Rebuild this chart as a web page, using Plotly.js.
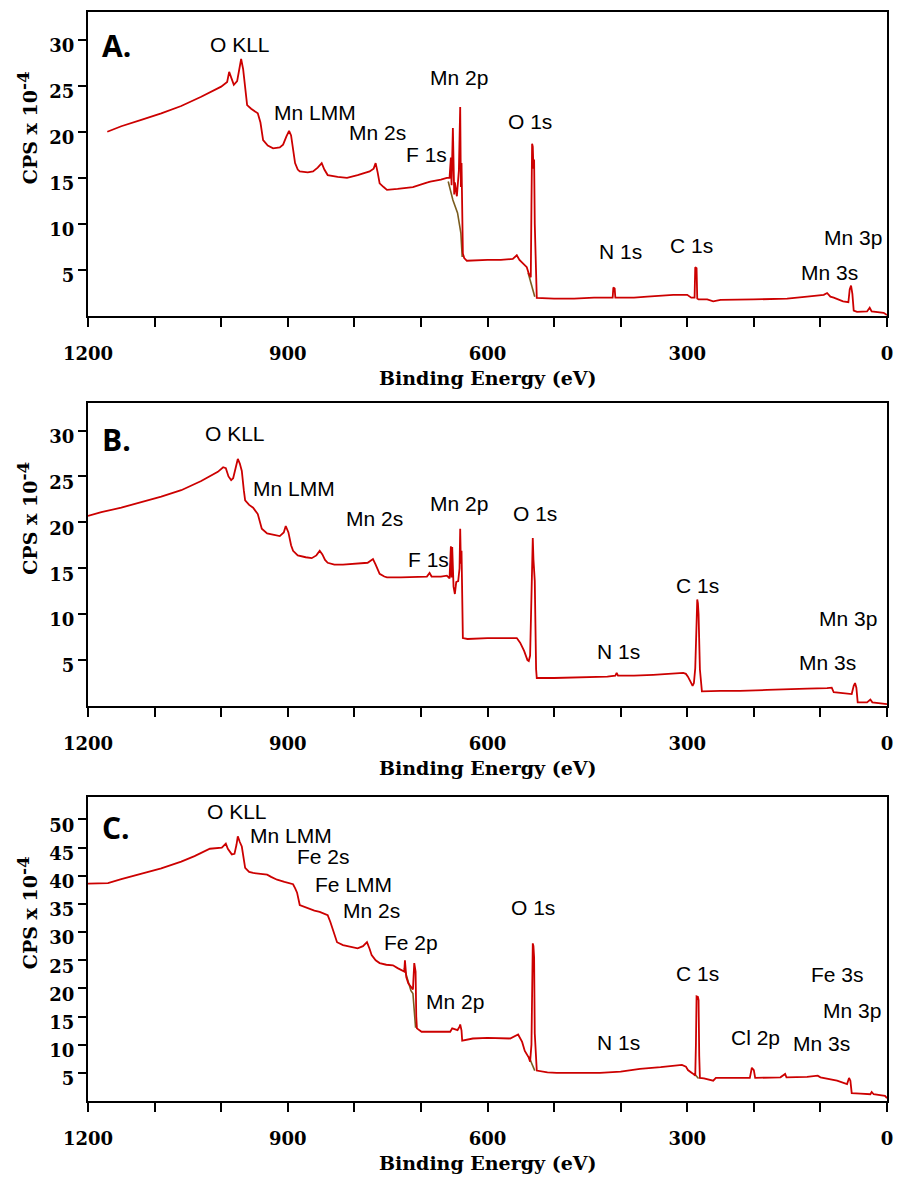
<!DOCTYPE html>
<html><head><meta charset="utf-8">
<script src="https://cdn.plot.ly/plotly-3.0.1.min.js"></script>
<style>html,body{margin:0;padding:0;background:#fff}#chart{width:897px;height:1178px}</style>
</head><body><div id="chart"></div>
<script>
// ---------- DATA ----------
const energyA = [1171,1150,1120,1090,1060,1030,1000,991,988,984,981,976,972,970,967,964,961,955,945,941,937,930,922,912,907,902,898,895,892,889,885,882,870,862,855,849,845,840,825,811,795,777,771,768,765,762,756,751,735,712,690,686,670,661,657,655,654,652,650,649,646,643,641,640,639,637,635,631,600,580,562,556,552,545,541,538,535,534,533,532,531,530,529,527,526,500,470,440,412,411,409,408,380,360,321,300,294,289,288,286,285,283,270,261,250,200,150,120,95,90,85,80,66,58,56,54,52,50,45,30,26,23,12,5,0];
const cpsA    = [20.0,20.6,21.3,22.0,22.8,23.8,24.9,25.4,26.5,25.6,25.1,25.5,27.2,27.9,26.8,24.5,22.9,22.5,22.0,21.0,19.1,18.5,18.2,18.3,18.6,19.5,20.1,19.6,18.0,16.6,15.9,15.7,15.6,15.7,16.1,16.6,15.9,15.3,15.1,15.0,15.3,15.7,16.0,16.6,15.6,14.4,14.0,13.7,13.8,14.0,14.5,14.6,14.8,15.0,15.0,17.2,14.2,20.4,13.2,14.5,13.0,15.8,22.7,14.0,16.6,6.8,6.3,6.0,6.1,6.1,6.2,6.6,6.1,5.6,5.3,4.6,4.2,12.0,18.7,18.4,16.0,17.0,10.0,2.5,1.96,1.9,1.9,2.0,2.0,3.1,3.0,2.0,2.0,2.1,2.3,2.3,2.0,2.0,5.3,5.2,1.9,1.8,1.8,1.6,1.75,1.8,1.9,2.1,2.3,2.5,2.1,2.0,1.6,1.5,2.9,3.3,2.4,0.6,0.45,0.5,0.9,0.5,0.45,0.35,0.1];
const bgEnergyA = [659,652,645,640,638,null,539,535,531,529];
const bgCpsA    = [14.6,12.6,11.2,9.0,6.4,null,4.7,3.6,2.6,2.1];

const energyB = [1200,1180,1150,1120,1090,1060,1030,1005,997,993,989,985,982,978,975,972,969,966,964,958,952,945,942,939,931,920,912,906,903,899,895,892,885,873,864,857,852,848,844,840,830,817,800,780,774,772,768,764,762,755,751,730,700,691,687,684,670,661,657,655,654,653,651,649,647,644,642,641,640,639,637,630,600,570,556,551,545,540,538,536,534,532,531,530,529,527,526,500,470,446,420,408,406,404,380,351,330,306,302,299,294,292,290,288,286,285,284,283,281,279,278,250,221,180,150,120,90,83,80,70,53,50,48,46,44,30,25,22,10,0];
const cpsB    = [20.7,21.1,21.6,22.2,22.8,23.5,24.5,25.5,26.0,25.9,25.0,24.6,24.8,26.0,26.9,26.4,25.6,23.5,22.4,21.9,21.6,20.9,20.0,19.3,18.8,18.6,18.5,18.9,19.6,18.9,17.5,16.9,16.4,16.2,16.1,16.4,16.9,16.5,15.9,15.6,15.4,15.4,15.5,15.6,15.9,16.0,15.4,14.6,14.4,14.1,14.0,14.0,14.1,14.1,14.5,14.1,14.1,14.2,13.9,17.4,14.0,17.3,13.0,12.2,13.5,13.6,15.0,19.3,15.5,16.9,7.4,7.3,7.4,7.4,7.4,6.9,6.0,5.0,4.9,5.5,12.0,18.3,16.0,14.5,13.6,4.0,3.05,3.05,3.1,3.1,3.2,3.3,3.6,3.3,3.3,3.4,3.5,3.6,3.5,3.2,2.5,2.2,2.5,4.1,9.0,11.6,11.2,10.0,4.0,1.7,1.6,1.65,1.64,1.75,1.85,1.9,1.95,2.0,1.5,1.45,1.3,2.2,2.5,2.0,0.4,0.4,0.7,0.4,0.3,0.2];

const energyC = [1200,1180,1170,1150,1120,1090,1060,1040,1017,1005,999,993,990,984,980,977,975,972,969,964,958,952,940,931,925,916,905,901,892,889,886,882,876,871,860,852,845,840,836,832,826,817,805,795,787,781,777,774,768,762,752,742,735,727,725,724,722,719,714,712,710,708,707,706,699,680,656,653,645,642,641,639,638,622,600,566,558,554,548,544,538,536,534,533,532,531,530,529,527,526,510,496,460,431,400,371,340,308,302,299,292,288,287,286,284,283,282,281,275,270,265,261,257,230,206,203,200,198,160,153,151,120,104,100,90,75,60,58,57,55,53,40,25,23,20,8,3,0];
const cpsC    = [38.6,38.6,38.7,39.4,40.4,41.3,42.5,43.5,44.8,44.9,45.0,45.7,44.8,43.8,43.9,45.5,47.0,46.0,45.2,41.4,40.7,40.5,40.3,40.2,39.8,39.3,38.9,38.8,38.5,37.8,37.0,34.8,34.5,34.3,33.8,33.6,33.3,33.0,31.8,30.4,28.2,27.7,27.4,27.1,27.5,28.2,27.0,25.9,25.0,24.5,24.2,24.1,23.6,23.2,23.0,25.0,22.0,20.9,20.0,19.8,24.5,23.0,15.0,12.9,12.3,12.3,12.3,12.9,12.6,13.2,13.6,12.5,10.7,11.1,11.2,11.1,11.5,11.8,10.5,8.9,7.7,7.0,10.0,25.0,28.0,27.5,25.5,12.0,6.0,5.4,5.1,5.0,5.0,5.0,5.2,5.7,6.0,6.4,6.1,5.5,4.9,4.5,10.0,18.6,18.5,17.9,8.0,4.1,4.0,3.9,3.7,3.6,4.1,4.1,4.1,5.9,5.5,4.1,4.2,4.8,4.2,4.3,4.5,4.2,4.0,3.6,3.0,3.8,4.1,3.6,1.4,1.3,1.2,1.6,1.2,1.0,0.9,0.5];
const bgEnergyC = [725,720,715,712,708,null,538,534,531,529,null,290,286,283];
const bgCpsC    = [23.6,21.5,19.6,19.1,13.0,null,7.9,6.8,6.0,5.4,null,4.9,4.4,4.0];

const xTickVals = [0,300,600,900,1200];
const xTickText = ['0','300','600','900','1200'];
const yTickValsAB = [5,10,15,20,25,30];
const yTickValsC  = [5,10,15,20,25,30,35,40,45,50];

const panelLetters = ['A.','B.','C.'];
const peakLabelsA = ['O KLL','Mn LMM','Mn 2s','F 1s','Mn 2p','O 1s','N 1s','C 1s','Mn 3p','Mn 3s'];
const peakLabelsB = ['O KLL','Mn LMM','Mn 2s','F 1s','Mn 2p','O 1s','N 1s','C 1s','Mn 3p','Mn 3s'];
const peakLabelsC = ['O KLL','Mn LMM','Fe 2s','Fe LMM','Mn 2s','Fe 2p','Mn 2p','O 1s','N 1s','C 1s','Cl 2p','Fe 3s','Mn 3p','Mn 3s'];

// ---------- LAYOUT (label placements in data units) ----------
const placeA = [[972,29.5],[859,22.1],[765,19.9],[692,17.5],[643,25.9],[536,21.1],[401,7.0],[293,7.7],[51,8.5],[86,4.7]];
const placeB = [[979,29.7],[891,23.7],[769,20.4],[689,16.0],[643,22.1],[529,21.0],[404,5.9],[285,13.1],[59,9.5],[90,4.7]];
const placeC = [[976,51.4],[895,47.1],[846,43.4],[801,38.4],[774,33.9],[715,28.2],[649,17.7],[532,34.3],[404,10.4],[285,22.7],[198,11.25],[75,22.5],[53,16.1],[99,10.2]];

const RED = '#cc0000', BROWN = '#7a5c1e';
const axisFont = {family:'DejaVu Serif, Liberation Serif, serif', size:18, color:'#000', weight:'bold'};

function xAxis(anchor){
  return {domain:[0,1], range:[1200,0], autorange:false, anchor:anchor,
    tickmode:'array', tickvals:xTickVals, ticktext:xTickText,
    ticks:'outside', ticklen:9, tickwidth:2, tickcolor:'#000',
    minor:{tickmode:'linear', tick0:0, dtick:100, ticks:'outside', ticklen:9, tickwidth:2, tickcolor:'#000', showgrid:false},
    showline:true, linewidth:2, linecolor:'#000', mirror:true,
    showgrid:false, zeroline:false, tickfont:axisFont, ticklabelstandoff:11};
}
function yAxis(anchor, domain, range, vals){
  return {domain:domain, range:range, autorange:false, anchor:anchor,
    tickmode:'array', tickvals:vals, ticktext:vals.map(String),
    ticks:'outside', ticklen:8, tickwidth:2, tickcolor:'#000',
    showline:true, linewidth:2, linecolor:'#000', mirror:true,
    showgrid:false, zeroline:false, tickfont:axisFont, ticklabelshift:6};
}

const traces = [
  {x:bgEnergyA, y:bgCpsA, xaxis:'x', yaxis:'y', mode:'lines', line:{color:BROWN, width:1.6}, connectgaps:false, hoverinfo:'skip'},
  {x:energyA, y:cpsA, xaxis:'x', yaxis:'y', mode:'lines', line:{color:RED, width:1.8}},
  {x:energyB, y:cpsB, xaxis:'x2', yaxis:'y2', mode:'lines', line:{color:RED, width:1.8}},
  {x:bgEnergyC, y:bgCpsC, xaxis:'x3', yaxis:'y3', mode:'lines', line:{color:BROWN, width:1.6}, connectgaps:false, hoverinfo:'skip'},
  {x:energyC, y:cpsC, xaxis:'x3', yaxis:'y3', mode:'lines', line:{color:RED, width:1.8}}
];

const annotations = [];
const peakFont = {family:'Liberation Sans, Arial, sans-serif', size:21, color:'#000'};
function addPeaks(labels, places, xr, yr){
  labels.forEach((t,i)=>annotations.push({text:t, x:places[i][0], y:places[i][1], xref:xr, yref:yr,
    showarrow:false, xanchor:'center', yanchor:'middle', font:peakFont}));
}
addPeaks(peakLabelsA, placeA, 'x', 'y');
addPeaks(peakLabelsB, placeB, 'x2', 'y2');
addPeaks(peakLabelsC, placeC, 'x3', 'y3');

const letterY = [0.891, 0.878, 0.898];
['y','y2','y3'].forEach((yr,i)=>{
  annotations.push({text:panelLetters[i], xref:'paper', x:0.015, xanchor:'left', yref:yr+' domain', y:letterY[i], yanchor:'middle',
    showarrow:false, font:{family:'Open Sans, Liberation Sans, sans-serif', size:30, color:'#000', weight:'bold'}});
  annotations.push({text:'CPS x 10<sup><span style="font-size:17px">-4</span></sup>', xref:'paper', x:-0.0763, xanchor:'center', yref:yr+' domain', y:0.618, yanchor:'middle',
    textangle:-90, showarrow:false, font:{family:'DejaVu Serif, Liberation Serif, serif', size:19, color:'#000', weight:'bold'}});
  annotations.push({text:'Binding Energy (eV)', xref:'paper', x:0.5, xanchor:'center', yref:yr+' domain', y:0, yanchor:'middle', yshift:-62,
    showarrow:false, font:{family:'DejaVu Serif, Liberation Serif, serif', size:19, color:'#000', weight:'bold'}});
});

const layout = {
  width:897, height:1178, margin:{l:88, r:10, t:12, b:77},
  paper_bgcolor:'#fff', plot_bgcolor:'#fff', showlegend:false,
  xaxis:xAxis('y'), xaxis2:xAxis('y2'), xaxis3:xAxis('y3'),
  yaxis:yAxis('x', [0.7208,1], [0,33], yTickValsAB),
  yaxis2:yAxis('x2', [0.3627,0.641], [0,33], yTickValsAB),
  yaxis3:yAxis('x3', [0,0.2792], [0,54], yTickValsC),
  annotations:annotations
};

Plotly.newPlot('chart', traces, layout, {displayModeBar:false, staticPlot:true});
</script></body></html>
